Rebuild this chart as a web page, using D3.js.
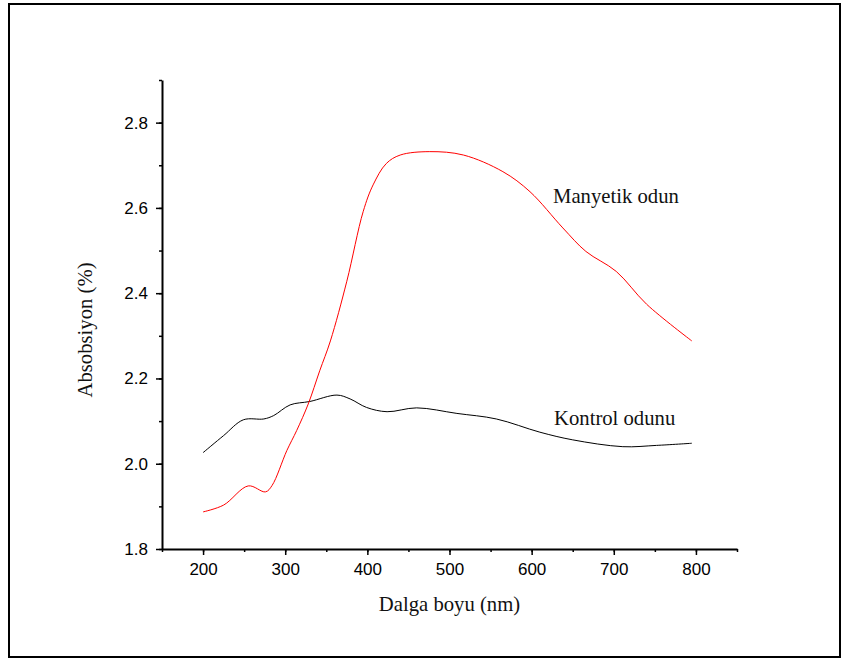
<!DOCTYPE html>
<html>
<head>
<meta charset="utf-8">
<script src="https://cdn.jsdelivr.net/npm/d3@7"></script>
<style>
  body { margin: 0; background: #fff; }
  .tick text { font-family: "Liberation Sans", Arial, sans-serif; font-size: 17px; fill: #000; }
  .title { font-family: "Liberation Serif", "Times New Roman", serif; font-size: 20.7px; fill: #111; }
</style>
</head>
<body>
<svg width="843" height="659"></svg>
<script>
// Wavelength (nm) / absorbance
const manyetikNm  = [200, 225, 255, 276, 284, 302, 314, 328, 342, 355, 375, 395, 407, 423, 440, 476, 517, 565, 598, 638, 666, 703, 740, 795];
const manyetikVal = [1.887, 1.903, 1.948, 1.934, 1.949, 2.031, 2.078, 2.140, 2.218, 2.288, 2.428, 2.592, 2.654, 2.704, 2.724, 2.732, 2.724, 2.685, 2.638, 2.553, 2.498, 2.451, 2.374, 2.288];

const kontrolNm  = [200, 225, 249, 274, 286, 306, 330, 363, 379, 399, 424, 460, 509, 557, 610, 650, 711, 752, 795];
const kontrolVal = [2.026, 2.066, 2.103, 2.105, 2.113, 2.138, 2.146, 2.161, 2.152, 2.132, 2.122, 2.131, 2.118, 2.105, 2.074, 2.056, 2.040, 2.043, 2.048];

const xTicks = [200, 300, 400, 500, 600, 700, 800];
const yTicks = [1.8, 2.0, 2.2, 2.4, 2.6, 2.8];

const svg = d3.select("svg"),
    width = +svg.attr("width"),
    height = +svg.attr("height");

// outer frame
svg.append("rect")
    .attr("x", 9).attr("y", 4)
    .attr("width", 831).attr("height", 653)
    .attr("fill", "none")
    .attr("stroke", "#000")
    .attr("stroke-width", 2);

const x = d3.scaleLinear().domain([150, 850]).range([162, 737]);
const y = d3.scaleLinear().domain([1.8, 2.9]).range([549, 80]);

// minor ticks first, then the major axis on top
svg.append("g")
    .attr("transform", `translate(0,${y(1.8)})`)
    .call(d3.axisBottom(x).tickValues(d3.range(150, 851, 50)).tickSize(3).tickFormat(""))
    .call(g => g.select(".domain").remove());
svg.append("g")
    .attr("transform", `translate(${x(150)},0)`)
    .call(d3.axisLeft(y).tickValues(d3.range(1.8, 2.95, 0.1)).tickSize(3).tickFormat(""))
    .call(g => g.select(".domain").remove());

const xAxis = svg.append("g")
    .attr("transform", `translate(0,${y(1.8)})`)
    .call(d3.axisBottom(x).tickValues(xTicks).tickSize(6).tickSizeOuter(0).tickPadding(8).tickFormat(d3.format("d")));

const yAxis = svg.append("g")
    .attr("transform", `translate(${x(150)},0)`)
    .call(d3.axisLeft(y).tickValues(yTicks).tickSize(6).tickSizeOuter(0).tickPadding(8).tickFormat(d3.format(".1f")));

svg.selectAll(".domain").attr("stroke-width", 2);
svg.selectAll(".tick line").attr("stroke-width", 1.5);

// curves
const line = d3.line()
    .x(d => x(d[0]))
    .y(d => y(d[1]))
    .curve(d3.curveCatmullRom.alpha(0.5));

svg.append("path")
    .datum(kontrolNm.map((n, i) => [n, kontrolVal[i]]))
    .attr("fill", "none")
    .attr("stroke", "#000")
    .attr("stroke-width", 1)
    .attr("d", line);

svg.append("path")
    .datum(manyetikNm.map((n, i) => [n, manyetikVal[i]]))
    .attr("fill", "none")
    .attr("stroke", "#ff0000")
    .attr("stroke-width", 1)
    .attr("d", line);

// labels
svg.append("text").attr("class", "title")
    .attr("x", 553).attr("y", 203)
    .text("Manyetik odun");

svg.append("text").attr("class", "title")
    .attr("x", 554).attr("y", 425)
    .text("Kontrol odunu");

svg.append("text").attr("class", "title")
    .attr("x", (x.range()[0] + x.range()[1]) / 2)
    .attr("y", 611)
    .attr("text-anchor", "middle")
    .text("Dalga boyu (nm)");

svg.append("text").attr("class", "title")
    .attr("transform", "translate(92,330) rotate(-90)")
    .attr("text-anchor", "middle")
    .text("Absobsiyon (%)");
</script>
</body>
</html>
